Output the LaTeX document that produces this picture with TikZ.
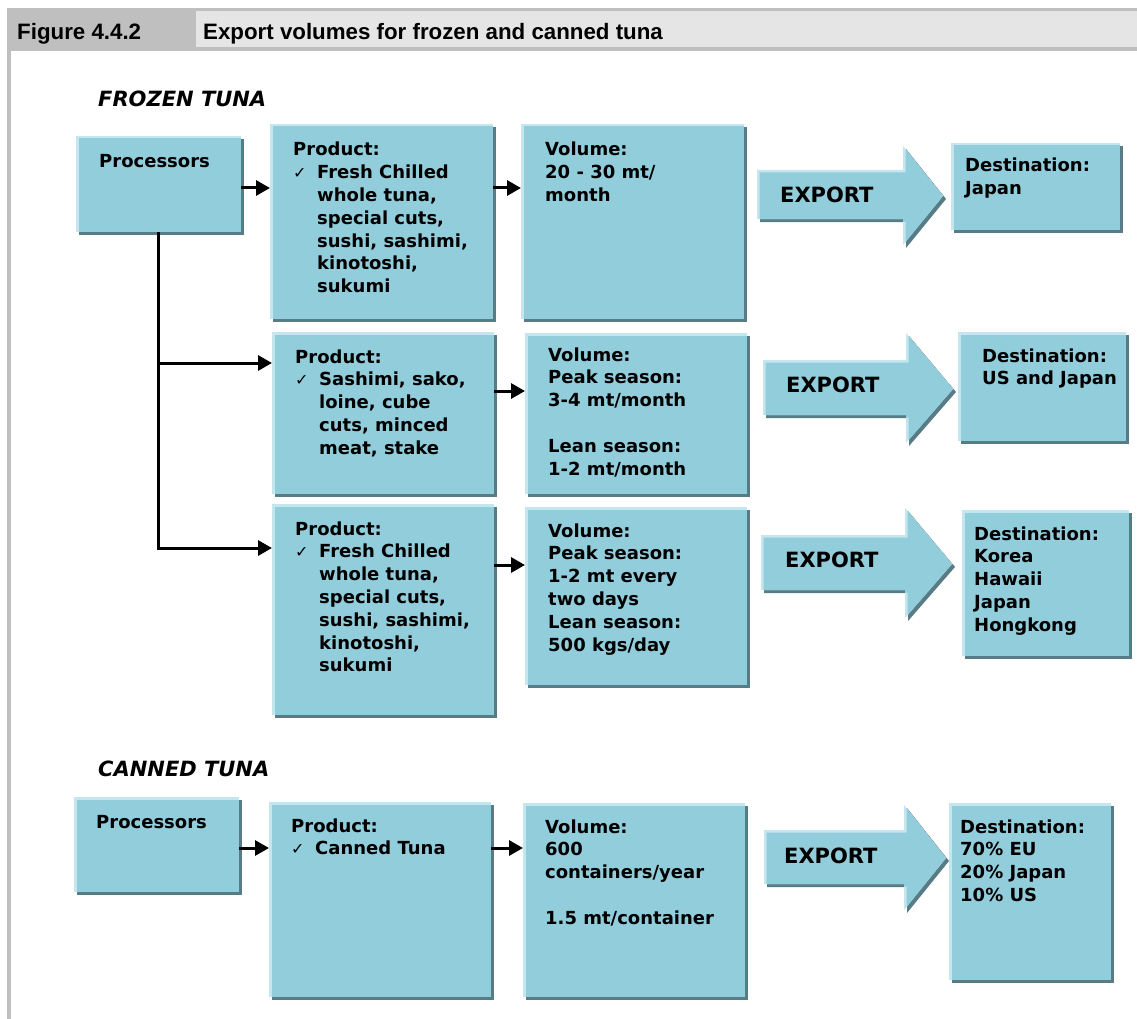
\documentclass[tikz,border=0pt]{standalone}
\usepackage{fontspec}
\usetikzlibrary{arrows.meta,shadows}
\newfontfamily\dvfont{DejaVu Sans}
\newfontfamily\hdrfont{Liberation Sans}
\definecolor{boxblue}{RGB}{146,205,220}
\definecolor{hilite}{RGB}{196,230,238}
\definecolor{shadowcol}{RGB}{88,124,134}
\definecolor{hdrdark}{RGB}{191,191,191}
\definecolor{hdrlight}{RGB}{229,229,229}
\newcommand\ck{\makebox[24pt][l]{\fontsize{16}{16}\selectfont\mdseries ✓}}
\newcommand\ind{\hspace*{24pt}}
\newcommand\mkbox[5]{\node[box, minimum width={#4pt-#2pt}, minimum height={#5pt-#3pt}] (#1) at (#2,#3) {};}
\newcommand\exparrow[8]{%
  \fill[shadowcol] (#1+3,#2+3) -- (#4+3,#2+3) -- (#4+3,#5+3) -- (#7+3,#8+3) -- (#4+3,#6+3) -- (#4+3,#3+3) -- (#1+3,#3+3) -- cycle;
  \fill[hilite] (#1,#2) -- (#4,#2) -- (#4,#5) -- (#7,#8) -- (#4,#6) -- (#4,#3) -- (#1,#3) -- cycle;
  \begin{scope}
    \clip (#1,#2) -- (#4,#2) -- (#4,#5) -- (#7,#8) -- (#4,#6) -- (#4,#3) -- (#1,#3) -- cycle;
    \fill[boxblue] (#1+2.5,#2+2.5) -- (#4+2.5,#2+2.5) -- (#4+2.5,#5+2.5) -- (#7+2.5,#8+2.5) -- (#4+2.5,#6+2.5) -- (#4+2.5,#3+2.5) -- (#1+2.5,#3+2.5) -- cycle;
  \end{scope}}
\begin{document}
\begin{tikzpicture}[x=1pt,y=-1pt,
  box/.style={rectangle, inner sep=0pt, outer sep=0pt, anchor=north west, fill=hilite,
    general shadow={fill=shadowcol, shadow xshift=3pt, shadow yshift=-3pt},
    path picture={\fill[boxblue] ([xshift=2.5pt,yshift=-2.5pt]path picture bounding box.north west) rectangle (path picture bounding box.south east);}},
  txt/.style={anchor=base west, inner sep=0pt, font=\dvfont\bfseries\fontsize{18}{22.8}\selectfont},
  bigtxt/.style={anchor=base west, inner sep=0pt, font=\dvfont\bfseries\fontsize{21}{25}\selectfont},
  ttl/.style={anchor=base west, inner sep=0pt, font=\dvfont\bfseries\itshape\fontsize{21}{25}\selectfont},
  hdr/.style={anchor=base west, inner sep=0pt, font=\hdrfont\bfseries\fontsize{22.3}{26}\selectfont},
  conn/.style={line width=3pt, -{Triangle[length=14pt,width=15pt]}}]
\fill[white] (0,0) rectangle (1137,1019);
\useasboundingbox (0,0) rectangle (1137,1019);
% header and frame
\fill[hdrdark] (7,8) rectangle (1137,51);
\fill[hdrlight] (196,11) rectangle (1137,47);
\fill[hdrdark] (7,51) rectangle (11,1019);
\node[hdr] (fig) at (17,40) {Figure 4.4.2};
\node[hdr] (figttl) at (203,40) {Export volumes for frozen and canned tuna};
% section titles
\node[ttl] (frozen) at (98,107) {FROZEN TUNA};
\node[ttl] (canned) at (98,776) {CANNED TUNA};
% boxes
\mkbox{proc1}{76}{136}{241}{232}
\mkbox{prod1}{270}{124}{493}{319}
\mkbox{vol1}{521}{124}{744}{319}
\mkbox{dest1}{951}{143}{1120}{230}
\mkbox{prod2}{272}{332}{494}{494}
\mkbox{vol2}{525}{333}{747}{494}
\mkbox{dest2}{958}{332}{1126}{441}
\mkbox{prod3}{272}{504}{494}{715}
\mkbox{vol3}{525}{507}{747}{685}
\mkbox{dest3}{962}{510}{1129}{656}
\mkbox{procC}{74}{797}{239}{892}
\mkbox{prodC}{269}{802}{491}{997}
\mkbox{volC}{523}{803}{745}{997}
\mkbox{destC}{949}{803}{1111}{980}
% export block arrows
\exparrow{757}{170}{219}{903}{146}{245}{943}{196}
\exparrow{763}{360}{415}{906}{333}{443}{953}{389}
\exparrow{761}{535}{590}{905}{508}{618}{952}{564}
\exparrow{764}{830}{884}{904}{805}{910}{946}{858}
% connectors
\coordinate (r1) at (0,188);
\coordinate (r2) at (0,363);
\coordinate (r3) at (0,548);
\coordinate (r4) at (0,391);
\coordinate (r5) at (0,565);
\coordinate (r6) at (0,848);
\draw[conn] (proc1.east |- r1) -- (prod1.west |- r1);
\draw[conn] (prod1.east |- r1) -- (vol1.west |- r1);
\draw[conn] (proc1.south) |- (prod3.west |- r3);
\draw[conn] (proc1.south |- r2) -- (prod2.west |- r2);
\draw[conn] (prod2.east |- r4) -- (vol2.west |- r4);
\draw[conn] (prod3.east |- r5) -- (vol3.west |- r5);
\draw[conn] (procC.east |- r6) -- (prodC.west |- r6);
\draw[conn] (prodC.east |- r6) -- (volC.west |- r6);
% texts row 1
\node[txt] (proc1t) at (99,168) {Processors};
\node[txt] (prod1t) at (293,156) {\begin{tabular}[t]{@{}l@{}}Product:\\\ck Fresh Chilled\\\ind whole tuna,\\\ind special cuts,\\\ind sushi, sashimi,\\\ind kinotoshi,\\\ind sukumi\end{tabular}};
\node[txt] (vol1t) at (545,156) {\begin{tabular}[t]{@{}l@{}}Volume:\\20 - 30 mt/\\month\end{tabular}};
\node[bigtxt] (exp1t) at (780,202) {EXPORT};
\node[txt] (dest1t) at (965,172) {\begin{tabular}[t]{@{}l@{}}Destination:\\Japan\end{tabular}};
% row 2
\node[txt] (prod2t) at (295,363) {\begin{tabular}[t]{@{}l@{}}Product:\\\ck Sashimi, sako,\\\ind loine, cube\\\ind cuts, minced\\\ind meat, stake\end{tabular}};
\node[txt] (vol2t) at (548,361) {\begin{tabular}[t]{@{}l@{}}Volume:\\Peak season:\\3-4 mt/month\\ \mbox{}\\Lean season:\\1-2 mt/month\end{tabular}};
\node[bigtxt] (exp2t) at (786,392) {EXPORT};
\node[txt] (dest2t) at (982,362) {\begin{tabular}[t]{@{}l@{}}Destination:\\US and Japan\end{tabular}};
% row 3
\node[txt] (prod3t) at (295,535) {\begin{tabular}[t]{@{}l@{}}Product:\\\ck Fresh Chilled\\\ind whole tuna,\\\ind special cuts,\\\ind sushi, sashimi,\\\ind kinotoshi,\\\ind sukumi\end{tabular}};
\node[txt] (vol3t) at (548,537) {\begin{tabular}[t]{@{}l@{}}Volume:\\Peak season:\\1-2 mt every\\two days\\Lean season:\\500 kgs/day\end{tabular}};
\node[bigtxt] (exp3t) at (785,567) {EXPORT};
\node[txt] (dest3t) at (974,540) {\begin{tabular}[t]{@{}l@{}}Destination:\\Korea\\Hawaii\\Japan\\Hongkong\end{tabular}};
% canned
\node[txt] (procCt) at (96,828) {Processors};
\node[txt] (prodCt) at (291,832) {\begin{tabular}[t]{@{}l@{}}Product:\\\ck Canned Tuna\end{tabular}};
\node[txt] (volCt) at (545,833) {\begin{tabular}[t]{@{}l@{}}Volume:\\600\\containers/year\\ \mbox{}\\1.5 mt/container\end{tabular}};
\node[bigtxt] (expCt) at (784,863) {EXPORT};
\node[txt] (destCt) at (960,833) {\begin{tabular}[t]{@{}l@{}}Destination:\\70\% EU\\20\% Japan\\10\% US\end{tabular}};
\end{tikzpicture}
\end{document}
